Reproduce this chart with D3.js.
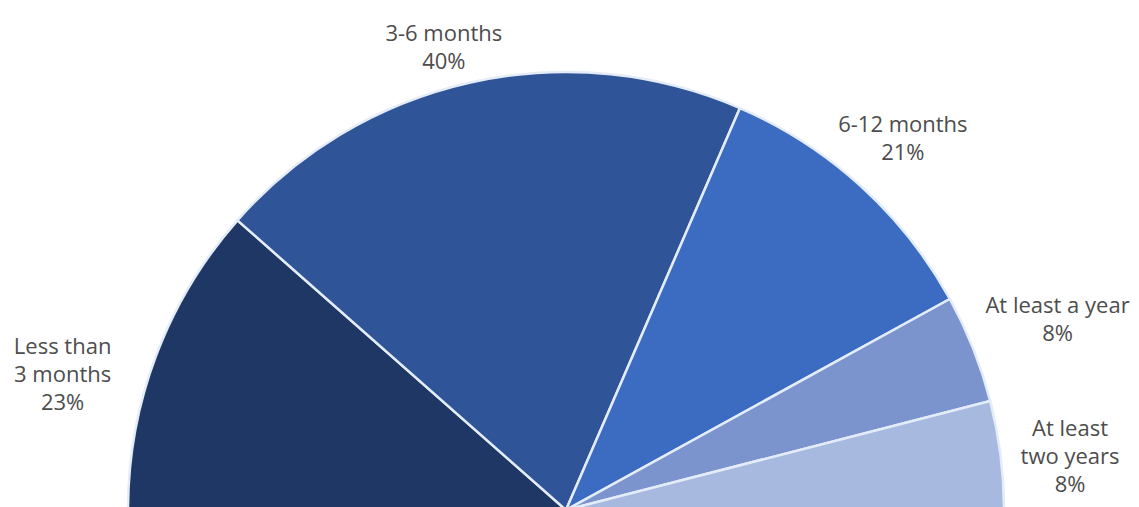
<!DOCTYPE html>
<html>
<head>
<meta charset="utf-8">
<script src="https://cdn.jsdelivr.net/npm/d3@7"></script>
<style>
  body { margin: 0; background: #fff; }
  svg { display: block; }
</style>
</head>
<body>
<div id="chart"></div>
<script>
// Data
const categories = ["Less than 3 months", "3-6 months", "6-12 months", "At least a year", "At least two years"];
const labelLines = [["Less than", "3 months"], ["3-6 months"], ["6-12 months"], ["At least a year"], ["At least", "two years"]];
const shares = [23, 40, 21, 8, 8];

const colors = ["#1f3765", "#2f5497", "#3b6cc2", "#7c94cd", "#a8b9e0"];

// Label nudges away from the plain centroid (pixels)
const labelNudge = [[-31, 43], [-12, 30], [-3, 2], [22, -5], [3, 10]];

let width = 1139;
let height = 507;
let center = {x: 566, y: 510};
let radius = 438;
let labelRadius = 505;
let lineHeight = 28;

let data = categories.map((c, i) => ({name: c, lines: labelLines[i], value: shares[i]}));

let svg = d3.select('#chart')
    .append('svg')
    .attr('width', width)
    .attr('height', height)
    .style('background', '#fff');

let g = svg.append('g')
    .attr('transform', `translate(${center.x}, ${center.y})`);

const pie = d3.pie()
    .sort(null)
    .value(d => d.value)
    .startAngle(-Math.PI / 2)
    .endAngle(Math.PI / 2);

const arc = d3.arc()
    .innerRadius(0)
    .outerRadius(radius);

const labelArc = d3.arc()
    .innerRadius(labelRadius)
    .outerRadius(labelRadius);

let arcs = pie(data);

// Slices
g.selectAll('path')
    .data(arcs)
    .enter()
    .append('path')
    .attr('d', arc)
    .attr('fill', (d, i) => colors[i])
    .attr('stroke', '#e4ecf8')
    .attr('stroke-width', 2.5)
    .attr('stroke-linejoin', 'round');

// Labels
let labels = g.selectAll('text')
    .data(arcs)
    .enter()
    .append('text')
    .attr('transform', (d, i) => {
        let c = labelArc.centroid(d);
        return `translate(${c[0] + labelNudge[i][0]}, ${c[1] + labelNudge[i][1]})`;
    })
    .attr('text-anchor', 'middle')
    .style('font-family', '"Open Sans", sans-serif')
    .style('font-size', '22px')
    .style('fill', '#4d4d4d');

labels.each(function(d) {
    let lines = d.data.lines.concat([d.data.value + '%']);
    let n = lines.length;
    let t = d3.select(this);
    lines.forEach((line, k) => {
        t.append('tspan')
            .attr('x', 0)
            .attr('y', (k - (n - 1) / 2) * lineHeight)
            .attr('dy', '0.35em')
            .text(line);
    });
});
</script>
</body>
</html>
